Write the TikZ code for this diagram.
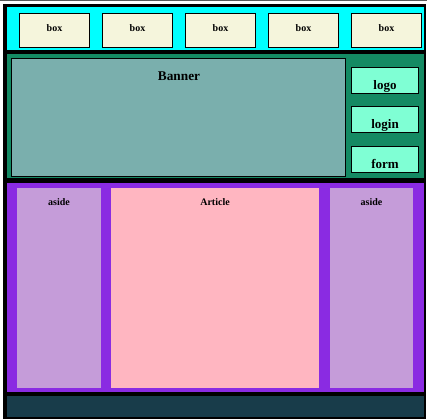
\documentclass[tikz,border=0pt]{standalone}
\usepackage{fontspec}
\setmainfont{Liberation Serif}
\definecolor{hdr}{HTML}{00FFFF}
\definecolor{beige}{HTML}{F5F5DC}
\definecolor{navgreen}{HTML}{148A63}
\definecolor{bannerc}{HTML}{7AAFAD}
\definecolor{aqua}{HTML}{7FFFD4}
\definecolor{violet}{HTML}{8A2BE2}
\definecolor{asidec}{HTML}{C59CD9}
\definecolor{pinkc}{HTML}{FFB6C1}
\definecolor{footc}{HTML}{183C4A}
\begin{document}
\begin{tikzpicture}[x=1pt,y=-1pt,
  topbox/.style={draw=black,line width=1pt,fill=beige},
  sidebox/.style={draw=black,line width=1pt,fill=aqua},
  lbl/.style={font=\bfseries\fontsize{10}{12}\selectfont,inner sep=0pt,anchor=base},
  biglbl/.style={font=\bfseries\fontsize{13.3}{15}\selectfont,inner sep=0pt,anchor=base},
  sidelbl/.style={font=\bfseries\fontsize{13}{15}\selectfont,inner sep=0pt,anchor=base}]
\useasboundingbox (0,0) rectangle (427,419);
\fill[white] (0,0) rectangle (427,419);
\fill[gray!70!black] (0,0) rectangle (427,1.2);
% outer frame
\fill[black] (3,4) rectangle (426,419);
% header
\fill[hdr] (7,7) rectangle (424,50);
\foreach \i in {0,...,4}{
  \draw[topbox] ({19.5+83*\i},13.5) rectangle ({89.5+83*\i},47.5);
  \node[lbl] (box\i) at ({54.5+83*\i},31.5) {box};
}
% nav / banner
\fill[navgreen] (7,54) rectangle (424,178);
\draw[draw=black,line width=1pt,fill=bannerc] (11.5,58.5) rectangle (345.5,176.5);
\node[biglbl] (banner) at (179,81) {Banner};
\draw[sidebox] (351.5,67.5) rectangle (418.5,93.5);
\node[sidelbl] (logo) at (385,90) {logo};
\draw[sidebox] (351.5,106.5) rectangle (418.5,132.5);
\node[sidelbl] (login) at (385,129) {login};
\draw[sidebox] (351.5,146.5) rectangle (418.5,172.5);
\node[sidelbl] (form) at (385,169) {form};
% main
\fill[violet] (7,183) rectangle (424,392);
\fill[asidec] (17,188) rectangle (101,388);
\fill[pinkc] (111,188) rectangle (319,388);
\fill[asidec] (330,188) rectangle (413,388);
\node[lbl] (asideL) at (59,205) {aside};
\node[lbl] (article) at (215,205) {Article};
\node[lbl] (asideR) at (371.5,205) {aside};
% footer
\fill[footc] (7,396) rectangle (424,417);
\end{tikzpicture}
\end{document}
